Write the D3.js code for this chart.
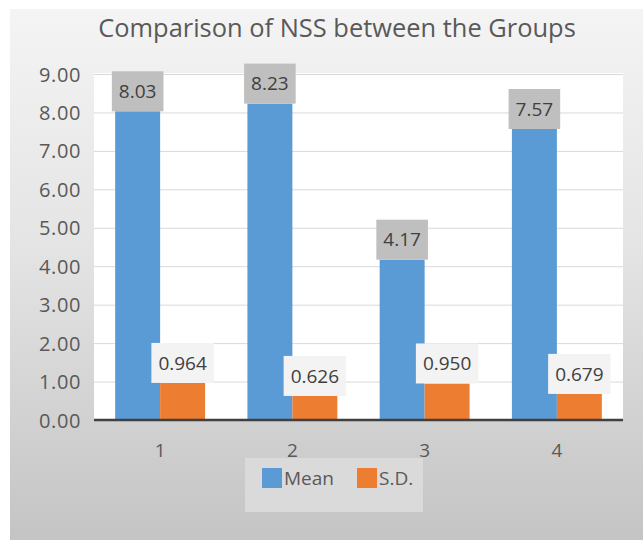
<!DOCTYPE html>
<html>
<head>
<meta charset="utf-8">
<script src="https://cdn.jsdelivr.net/npm/d3@7"></script>
<style>
  html, body { margin: 0; padding: 0; background: #ffffff; }
  svg { display: block; }
  text { font-family: "Open Sans", "DejaVu Sans", sans-serif; }
</style>
</head>
<body>
<svg id="chart" width="643" height="540"></svg>
<script>
// Chart data
const title = "Comparison of NSS between the Groups";
const groups = ["1", "2", "3", "4"];
const seriesNames = ["Mean", "S.D."];
const meanValues = [8.03, 8.23, 4.17, 7.57];
const sdValues = [0.964, 0.626, 0.950, 0.679];
const meanLabels = ["8.03", "8.23", "4.17", "7.57"];
const sdLabels = ["0.964", "0.626", "0.950", "0.679"];
const yTicks = [0, 1, 2, 3, 4, 5, 6, 7, 8, 9];

const colors = { "Mean": "#5b9bd5", "S.D.": "#ed7d31" };
const labelFill = { "Mean": "#bfbfbf", "S.D.": "#f3f3f3" };

const svg = d3.select("#chart");

// Chart background with vertical gradient
const defs = svg.append("defs");
const grad = defs.append("linearGradient")
  .attr("id", "bgGrad").attr("x1", 0).attr("y1", 0).attr("x2", 0).attr("y2", 1);
grad.append("stop").attr("offset", "0%").attr("stop-color", "#f4f4f4");
grad.append("stop").attr("offset", "45%").attr("stop-color", "#e4e4e4");
grad.append("stop").attr("offset", "100%").attr("stop-color", "#c4c4c4");

svg.append("rect")
  .attr("x", 10).attr("y", 9).attr("width", 633).attr("height", 531)
  .attr("fill", "url(#bgGrad)");

// Plot area
const plot = { left: 94, right: 623, top: 73, bottom: 420 };

svg.append("rect")
  .attr("x", plot.left).attr("y", plot.top)
  .attr("width", plot.right - plot.left).attr("height", plot.bottom - plot.top)
  .attr("fill", "#ffffff");

const y = d3.scaleLinear().domain([0, 9]).range([plot.bottom, plot.top + 1]);
const x = d3.scaleBand().domain(groups).range([plot.left, plot.right])
  .paddingInner(0.32).paddingOuter(0.16);
const xs = d3.scaleBand().domain(seriesNames).range([0, x.bandwidth()]);

// Gridlines
svg.append("g").selectAll("line")
  .data(yTicks.filter(d => d > 0))
  .join("line")
  .attr("x1", plot.left).attr("x2", plot.right)
  .attr("y1", d => y(d) + 0.5).attr("y2", d => y(d) + 0.5)
  .attr("stroke", "#d9d9d9").attr("stroke-width", 1);

// Y axis labels
const yAxis = d3.axisLeft(y).tickValues(yTicks).tickFormat(d3.format(".2f")).tickSize(0).tickPadding(0);
const yg = svg.append("g").attr("transform", `translate(81,0)`).call(yAxis);
yg.select(".domain").remove();
yg.selectAll("text")
  .attr("font-family", "'Open Sans', sans-serif")
  .attr("font-size", 20).attr("fill", "#595959").attr("dy", "0.35em")
  .attr("letter-spacing", 0.6);

// Bars
const rows = groups.map((g, i) => ({ group: g, values: [
  { series: "Mean", value: meanValues[i], label: meanLabels[i] },
  { series: "S.D.", value: sdValues[i], label: sdLabels[i] }
]}));

const gGroups = svg.append("g").selectAll("g")
  .data(rows).join("g")
  .attr("transform", d => `translate(${x(d.group)},0)`);

gGroups.selectAll("rect.bar")
  .data(d => d.values).join("rect")
  .attr("class", "bar")
  .attr("x", d => xs(d.series))
  .attr("width", xs.bandwidth())
  .attr("y", d => y(d.value))
  .attr("height", d => y(0) - y(d.value))
  .attr("fill", d => colors[d.series]);

// Axis line at zero
svg.append("line")
  .attr("x1", plot.left).attr("x2", plot.right)
  .attr("y1", y(0)).attr("y2", y(0))
  .attr("stroke", "#404040").attr("stroke-width", 2.5);

// Value labels in boxes above each bar
const labelG = gGroups.selectAll("g.lab")
  .data(d => d.values).join("g").attr("class", "lab");

labelG.each(function(d) {
  const g = d3.select(this);
  const cx = xs(d.series) + xs.bandwidth() / 2;
  const top = y(d.value);
  const rect = g.append("rect").attr("fill", labelFill[d.series]);
  const t = g.append("text")
    .attr("x", cx).attr("y", top - 20)
    .attr("text-anchor", "middle").attr("dy", "0.35em")
    .attr("font-size", 19).attr("fill", "#404040")
    .text(d.label);
  const w = t.node().getComputedTextLength() + 14;
  rect.attr("x", cx - w / 2).attr("y", top - 40).attr("width", w).attr("height", 40);
});

// X axis category labels
const xAxis = d3.axisBottom(x).tickSize(0).tickPadding(0);
const xg = svg.append("g").attr("transform", `translate(0,450)`).call(xAxis);
xg.select(".domain").remove();
xg.selectAll("text")
  .attr("font-family", "'Open Sans', sans-serif")
  .attr("font-size", 19).attr("fill", "#595959").attr("dy", "0.35em");

// Legend
const legend = svg.append("g");
legend.append("rect")
  .attr("x", 245).attr("y", 458).attr("width", 178).attr("height", 54)
  .attr("fill", "#dadada");
const legendItems = [{ name: seriesNames[0], x: 262 }, { name: seriesNames[1], x: 357 }];
legendItems.forEach(it => {
  legend.append("rect")
    .attr("x", it.x).attr("y", 468).attr("width", 20).attr("height", 20)
    .attr("fill", colors[it.name]);
  legend.append("text")
    .attr("x", it.x + 22).attr("y", 478).attr("dy", "0.35em")
    .attr("font-size", 19).attr("fill", "#595959")
    .text(it.name);
});

// Title, sized to span its measured width
const titleText = svg.append("text")
  .attr("x", 337).attr("y", 37)
  .attr("text-anchor", "middle")
  .attr("font-size", 25).attr("fill", "#595959")
  .text(title);
const tw = titleText.node().getComputedTextLength();
titleText.attr("font-size", 25 * 478 / tw);
</script>
</body>
</html>
